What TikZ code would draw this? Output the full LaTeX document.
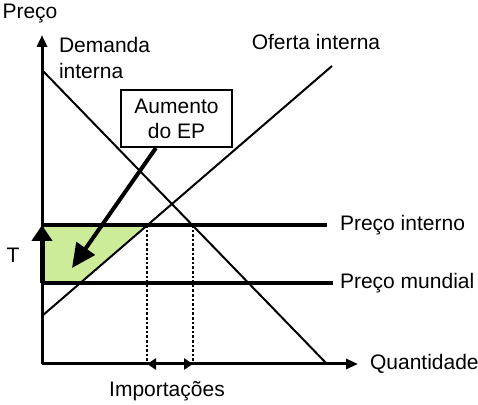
\documentclass[tikz,border=0pt]{standalone}
\usepackage{fontspec}
\setmainfont{Liberation Sans}
\usetikzlibrary{positioning,arrows.meta}

\definecolor{epgreen}{RGB}{204,236,153}

\begin{document}
\begin{tikzpicture}[x=0.5pt,y=-0.5pt,
        every node/.append style={font=\fontsize{10.5}{12.6}\selectfont},
        curve/.style={line width=1pt},
        priceline/.style={line width=2.3pt},
        axis/.style={line width=1.5pt,-{Triangle[length=6pt,width=5pt]}},
        impline/.style={line width=1.2pt,dash pattern=on 1.3pt off 1pt},
        ]
          \useasboundingbox (0,0) rectangle (478,405);

          % points of the chart
          \coordinate (o) at (42,364);
          \coordinate (yTop) at (42,35);
          \coordinate (dHi) at (42,70);
          \coordinate (dLo) at (327,364);
          \coordinate (sLo) at (42,316);
          \coordinate (sHi) at (332,66);
          \coordinate (intL) at (42,225);
          \coordinate (intR) at (327,225);
          \coordinate (mundL) at (42,283);
          \coordinate (sInt) at (147,225);
          \coordinate (dInt) at (193,225);
          \coordinate (sMund) at (80,283);
          \coordinate (imp1) at (147,364);
          \coordinate (imp2) at (193,364);
          \coordinate (epTip) at (72,268);

          % Gain area
          \fill[epgreen] (intL) -- (sInt) -- (sMund) -- (mundL) -- cycle;

          % labels
          \node (preco) at (30,14) {Preço};
          \node[anchor=west,align=left] (dem) at (52,58) {Demanda\\interna};
          \node (oferta) at (316,42) {Oferta interna};
          \node[anchor=west] (pint) at (333,225) {Preço interno};
          \node[anchor=west] (pmund) at (333,283) {Preço mundial};
          \node[anchor=west] (qty) at (363,364) {Quantidade};
          \node (imp) at (167,391) {Importações};
          \node (t) at (13,255) {T};
          \node[draw,line width=1pt,fill=white,align=center,
                minimum width=55.5pt,minimum height=28.5pt] (ep) at (176.5,118.5) {Aumento\\do EP};

          % curves
          \draw[curve] (dHi) -- (dLo);
          \draw[curve] (sLo) -- (sHi);

          % Domestic and world prices
          \draw[priceline] (intL) -- (intR);
          \draw[priceline] (mundL) -- (pmund.west);

          % Imports
          \draw[impline] (sInt) -- (imp1);
          \draw[impline] (dInt) -- (imp2);

          % axes
          \draw[axis] (o) -- (yTop);
          \draw[axis,shorten >=2.5pt] (o) -- (qty.west);
          \draw[line width=1.5pt,{Triangle[length=4.5pt,width=5.5pt]}-{Triangle[length=4.5pt,width=5.5pt]}] (imp1) -- (imp2);

          % Tariff
          \draw[line width=2.5pt,-{Triangle[length=8pt,width=10pt]}] (mundL) -- (intL);

          % EP arrow
          \draw[line width=2pt,-{Triangle[length=12pt,width=11pt]}] (ep) -- (epTip);
        \end{tikzpicture}
\end{document}
